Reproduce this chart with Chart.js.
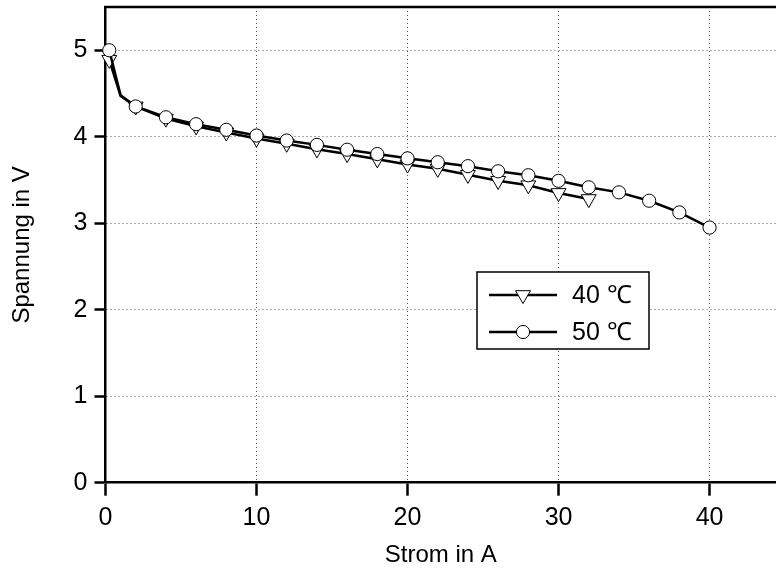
<!DOCTYPE html>
<html><head><meta charset="utf-8">
<script src="https://cdn.jsdelivr.net/npm/chart.js@4.4.1/dist/chart.umd.min.js"></script>
<style>html,body{margin:0;padding:0;background:#fff;overflow:hidden}#wrap{width:776px;height:581px;position:relative}</style>
</head><body><div id="wrap"><canvas id="c" width="776" height="581"></canvas></div>
<script>
const seriesNames = ['40 \u2103', '50 \u2103'];
const current40 = [0.25, 1, 2, 4, 6, 8, 10, 12, 14, 16, 18, 20, 22, 24, 26, 28, 30, 32];
const voltage40 = [4.89, 4.47, 4.35, 4.21, 4.12, 4.05, 3.98, 3.92, 3.855, 3.80, 3.74, 3.68, 3.63, 3.56, 3.49, 3.44, 3.35, 3.28];
const current50 = [0.25, 1, 2, 4, 6, 8, 10, 12, 14, 16, 18, 20, 22, 24, 26, 28, 30, 32, 34, 36, 38, 40];
const voltage50 = [5.0, 4.48, 4.35, 4.225, 4.145, 4.08, 4.014, 3.956, 3.906, 3.85, 3.80, 3.75, 3.705, 3.66, 3.60, 3.555, 3.49, 3.415, 3.357, 3.26, 3.125, 2.95];
const unmarkedCurrents = [1];
const xTicks = [0, 10, 20, 30, 40];
const yTicks = [0, 1, 2, 3, 4, 5];
const xTitle = 'Strom in A';
const yTitle = 'Spannung in V';

const FONT = '"Liberation Sans", Arial, sans-serif';
const TRI_R = 8.6, CIRC_R = 6.6;

function pts(xs, ys) { return xs.map((x, i) => ({x: x, y: ys[i]})); }
function radiusFn(r) { return c => (c.raw && unmarkedCurrents.includes(c.raw.x)) ? 0 : r; }

function drawTri(ctx, x, y, r) {
  ctx.beginPath();
  let rad = Math.PI;
  ctx.moveTo(x + Math.sin(rad) * r, y - Math.cos(rad) * r);
  rad += 2 * Math.PI / 3;
  ctx.lineTo(x + Math.sin(rad) * r, y - Math.cos(rad) * r);
  rad += 2 * Math.PI / 3;
  ctx.lineTo(x + Math.sin(rad) * r, y - Math.cos(rad) * r);
  ctx.closePath();
  ctx.fillStyle = '#fff'; ctx.fill();
  ctx.lineWidth = 1; ctx.strokeStyle = '#000'; ctx.stroke();
}
function drawCirc(ctx, x, y, r) {
  ctx.beginPath(); ctx.arc(x, y, r, 0, Math.PI * 2);
  ctx.fillStyle = '#fff'; ctx.fill();
  ctx.lineWidth = 1; ctx.strokeStyle = '#000'; ctx.stroke();
}

const framePlugin = {
  id: 'frame',
  afterDatasetsDraw(chart) {
    const {ctx, chartArea: a} = chart;
    ctx.save();
    ctx.strokeStyle = '#000'; ctx.lineWidth = 2.5;
    ctx.beginPath(); ctx.moveTo(a.left - 1.25, a.top); ctx.lineTo(a.right + 2, a.top); ctx.stroke();
    ctx.restore();
  }
};

const legendPlugin = {
  id: 'boxLegend',
  afterDraw(chart) {
    const ctx = chart.ctx;
    const L = 477, T = 272, W = 172, H = 77;
    ctx.save();
    ctx.fillStyle = '#fff'; ctx.fillRect(L, T, W, H);
    ctx.strokeStyle = '#000'; ctx.lineWidth = 1.5; ctx.strokeRect(L, T, W, H);
    const rows = [T + 23, T + 60];
    seriesNames.forEach((name, i) => {
      const y = rows[i];
      ctx.strokeStyle = '#000'; ctx.lineWidth = 2.5;
      ctx.beginPath(); ctx.moveTo(L + 12, y); ctx.lineTo(L + 80, y); ctx.stroke();
      if (i === 0) drawTri(ctx, L + 46, y, TRI_R); else drawCirc(ctx, L + 46, y, CIRC_R);
      ctx.fillStyle = '#000'; ctx.font = '25px ' + FONT;
      ctx.textBaseline = 'middle'; ctx.textAlign = 'left';
      ctx.fillText(name, L + 95, y + 1);
    });
    ctx.restore();
  }
};

new Chart(document.getElementById('c'), {
  type: 'line',
  data: {
    datasets: [
      {
        label: seriesNames[0], data: pts(current40, voltage40), order: 2,
        borderColor: '#000', borderWidth: 2.5, backgroundColor: '#fff',
        pointStyle: 'triangle', rotation: 180, pointRadius: radiusFn(TRI_R),
        pointBorderWidth: 1, pointBorderColor: '#000', pointBackgroundColor: '#fff',
        tension: 0, clip: false
      },
      {
        label: seriesNames[1], data: pts(current50, voltage50), order: 1,
        borderColor: '#000', borderWidth: 2.5, backgroundColor: '#fff',
        pointStyle: 'circle', pointRadius: radiusFn(CIRC_R),
        pointBorderWidth: 1, pointBorderColor: '#000', pointBackgroundColor: '#fff',
        tension: 0, clip: false
      }
    ]
  },
  options: {
    responsive: false, animation: false, devicePixelRatio: 1,
    layout: {autoPadding: false, padding: {top: 7, right: 0, left: 0, bottom: 0}},
    plugins: {legend: {display: false}, tooltip: {enabled: false}},
    scales: {
      x: {
        type: 'linear', min: 0, max: 44.4,
        afterBuildTicks: s => { s.ticks = xTicks.map(v => ({value: v})); },
        afterFit: s => { s.height = 98.3; s.paddingRight = 0; s.paddingLeft = 0; },
        ticks: {font: {size: 25, family: FONT}, color: '#000', padding: 7, includeBounds: false, maxRotation: 0},
        grid: {color: '#555', lineWidth: 1, tickColor: '#000', tickLength: 13, tickWidth: 2.5},
        border: {color: '#000', width: 2.5, dash: [1, 3]},
        title: {display: true, text: xTitle, color: '#000', font: {size: 24, family: FONT}, padding: {top: 0, bottom: 11}}
      },
      y: {
        type: 'linear', min: 0, max: 5.5,
        afterBuildTicks: s => { s.ticks = yTicks.map(v => ({value: v})); },
        afterFit: s => { s.width = 105.5; s.paddingTop = 0; s.paddingBottom = 0; },
        ticks: {font: {size: 25, family: FONT}, color: '#000', padding: 7, includeBounds: false},
        grid: {color: '#555', lineWidth: 1, tickColor: '#000', tickLength: 11, tickWidth: 2.5},
        border: {color: '#000', width: 2.5, dash: [1, 3]},
        title: {display: true, text: yTitle, color: '#000', font: {size: 24, family: FONT}, padding: {top: 8, bottom: 0}}
      }
    }
  },
  plugins: [framePlugin, legendPlugin]
});
</script>
</body></html>
